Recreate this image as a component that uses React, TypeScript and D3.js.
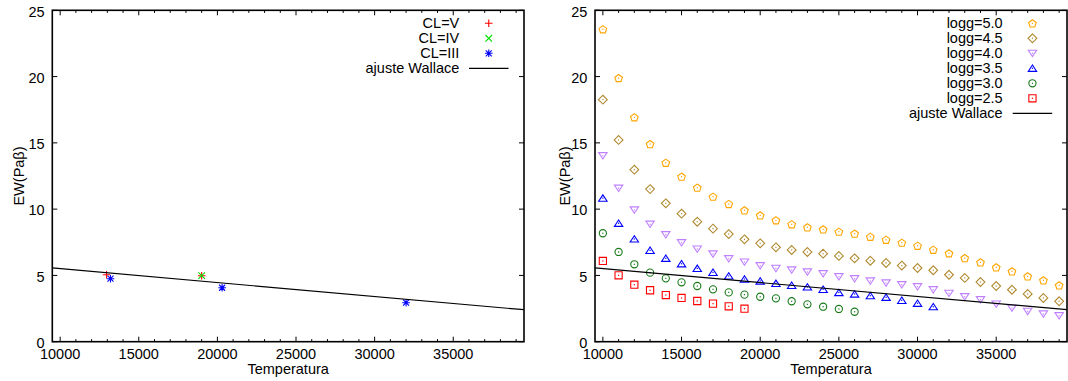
import React from 'react';
import * as d3 from 'd3';

// Temperature grid of the model series (K)
const tempGrid = [
  10000, 11000, 12000, 13000, 14000, 15000, 16000, 17000, 18000, 19000,
  20000, 21000, 22000, 23000, 24000, 25000, 26000, 27000, 28000, 29000,
  30000, 31000, 32000, 33000, 34000, 35000, 36000, 37000, 38000, 39000,
];

// Model EW(Paβ) per surface gravity
const logg50 = [23.57, 19.89, 16.93, 14.91, 13.5, 12.45, 11.62, 10.94, 10.39, 9.91, 9.53, 9.16, 8.86, 8.63, 8.48, 8.3, 8.15, 7.92, 7.69, 7.47, 7.24, 6.94, 6.67, 6.31, 5.99, 5.61, 5.31, 4.93, 4.63, 4.25];
const logg45 = [18.26, 15.22, 12.98, 11.51, 10.44, 9.66, 9.05, 8.53, 8.12, 7.72, 7.42, 7.12, 6.92, 6.77, 6.64, 6.47, 6.29, 6.11, 5.94, 5.74, 5.56, 5.39, 5.05, 4.81, 4.5, 4.2, 3.92, 3.6, 3.3, 3.05];
const logg40 = [14.03, 11.58, 9.94, 8.86, 8.07, 7.47, 6.99, 6.62, 6.26, 6.01, 5.73, 5.53, 5.41, 5.26, 5.13, 4.9, 4.75, 4.58, 4.43, 4.3, 4.15, 3.92, 3.65, 3.39, 3.17, 2.84, 2.54, 2.29, 2.09, 1.96];
const logg35 = [10.83, 8.93, 7.75, 6.89, 6.29, 5.88, 5.53, 5.23, 4.96, 4.73, 4.58, 4.4, 4.25, 4.13, 3.95, 3.71, 3.6, 3.47, 3.35, 3.12, 2.9, 2.64];
const logg30 = [8.18, 6.77, 5.84, 5.21, 4.78, 4.48, 4.2, 3.95, 3.72, 3.55, 3.39, 3.27, 3.05, 2.82, 2.64, 2.47, 2.26];
const logg25 = [6.09, 5.01, 4.3, 3.88, 3.52, 3.3, 3.07, 2.87, 2.67, 2.49];

// Observed stars by luminosity class
const clVTemp = [12950, 19000];
const clVEW = [5.05, 4.98];
const clIVTemp = [19000];
const clIVEW = [4.98];
const clIIITemp = [13200, 20300, 32000];
const clIIIEW = [4.75, 4.07, 2.94];

// Wallace fit: EW = a + b * T
const wallaceA = 6.56;
const wallaceB = -1.05e-4;

const xDomain = [9500, 39500];
const yDomain = [0, 25];
const xTickValues = [10000, 15000, 20000, 25000, 30000, 35000];
const yTickValues = [0, 5, 10, 15, 20, 25];

const FONT = '"Liberation Sans", Arial, Helvetica, sans-serif';
const FS = 14.5;
const TOP = 10.3;
const BOTTOM = 341.7;

type Shape = 'plus' | 'cross' | 'star' | 'pentagon' | 'diamond' | 'tridown' | 'triup' | 'circle' | 'square';

function markerPath(shape: Shape): string {
  const p = d3.path();
  const poly = (pts: [number, number][]) => {
    p.moveTo(pts[0][0], pts[0][1]);
    pts.slice(1).forEach(([a, b]) => p.lineTo(a, b));
    p.closePath();
  };
  switch (shape) {
    case 'plus':
      p.moveTo(-3.8, 0); p.lineTo(3.8, 0); p.moveTo(0, -3.8); p.lineTo(0, 3.8);
      break;
    case 'cross':
      p.moveTo(-3.3, -3.3); p.lineTo(3.3, 3.3); p.moveTo(-3.3, 3.3); p.lineTo(3.3, -3.3);
      break;
    case 'star':
      p.moveTo(-3.8, 0); p.lineTo(3.8, 0); p.moveTo(0, -3.8); p.lineTo(0, 3.8);
      p.moveTo(-3, -3); p.lineTo(3, 3); p.moveTo(-3, 3); p.lineTo(3, -3);
      break;
    case 'pentagon': {
      const r = 4;
      const pts: [number, number][] = d3.range(5).map((k) => {
        const a = (-90 + 72 * k) * Math.PI / 180;
        return [r * Math.cos(a), r * Math.sin(a) + 0.4];
      });
      poly(pts);
      break;
    }
    case 'diamond':
      poly([[0, -4.4], [4.4, 0], [0, 4.4], [-4.4, 0]]);
      break;
    case 'tridown':
      poly([[-4.2, -3.1], [4.2, -3.1], [0, 3.3]]);
      break;
    case 'triup':
      poly([[-4.2, 3.1], [4.2, 3.1], [0, -3.3]]);
      break;
    case 'circle':
      p.moveTo(3.6, 0); p.arc(0, 0, 3.6, 0, Math.PI * 2);
      break;
    case 'square':
      poly([[-3.6, -3.6], [3.6, -3.6], [3.6, 3.6], [-3.6, 3.6]]);
      break;
  }
  return p.toString();
}

const hasDot = (s: Shape) => !['plus', 'cross', 'star'].includes(s);

function Marker({ x, y, shape, color }: { x: number; y: number; shape: Shape; color: string }) {
  return (
    <g transform={`translate(${x},${y})`}>
      <path d={markerPath(shape)} fill="none" stroke={color} strokeWidth={1.1} />
      {hasDot(shape) && <rect x={-0.6} y={-0.6} width={1.2} height={1.2} fill={color} />}
    </g>
  );
}

interface Series {
  label: string;
  temps: number[];
  values: number[];
  shape: Shape;
  color: string;
}

function Panel({
  x0, x1, series, legendTextRight, legendLineStart, yLabelX,
}: {
  x0: number; x1: number; series: Series[]; legendTextRight: number; legendLineStart: number; yLabelX: number;
}) {
  const x = d3.scaleLinear().domain(xDomain).range([x0, x1]);
  const y = d3.scaleLinear().domain(yDomain).range([BOTTOM, TOP]);
  const minor = d3.range(10000, 39001, 1000);
  const fit = d3.line<number>().x((t) => x(t)).y((t) => y(wallaceA + wallaceB * t));
  const legendLineEnd = legendLineStart + 39.5;
  const legendMid = (legendLineStart + legendLineEnd) / 2;
  const rowY = (i: number) => 23.3 + 15 * i;

  return (
    <g>
      <defs>
        <clipPath id={`clip-${x0}`}>
          <rect x={x0} y={TOP} width={x1 - x0} height={BOTTOM - TOP} />
        </clipPath>
      </defs>
      {/* ticks on all four sides, pointing inward */}
      {minor.map((t) => {
        const major = t % 5000 === 0;
        const len = major ? 5 : 2.6;
        return (
          <g key={t} stroke="#000" strokeWidth={1}>
            <line x1={x(t)} x2={x(t)} y1={BOTTOM} y2={BOTTOM - len} />
            <line x1={x(t)} x2={x(t)} y1={TOP} y2={TOP + len} />
          </g>
        );
      })}
      {yTickValues.map((v) => (
        <g key={v} stroke="#000" strokeWidth={1}>
          <line x1={x0} x2={x0 + 5} y1={y(v)} y2={y(v)} />
          <line x1={x1} x2={x1 - 5} y1={y(v)} y2={y(v)} />
        </g>
      ))}
      {xTickValues.map((t) => (
        <text key={t} x={x(t)} y={358.6} textAnchor="middle" fontFamily={FONT} fontSize={FS} fill="#000">
          {t}
        </text>
      ))}
      {yTickValues.map((v) => (
        <text key={v} x={x0 - 7.6} y={y(v) + 6.3} textAnchor="end" fontFamily={FONT} fontSize={FS} fill="#000">
          {v}
        </text>
      ))}
      <text x={(x0 + x1) / 2} y={374} textAnchor="middle" fontFamily={FONT} fontSize={FS} fill="#000">
        Temperatura
      </text>
      <text
        transform={`translate(${yLabelX},${(TOP + BOTTOM) / 2}) rotate(-90)`}
        textAnchor="middle"
        dominantBaseline="central"
        fontFamily={FONT}
        fontSize={FS}
        fill="#000"
      >
        EW(Paβ)
      </text>

      <g clipPath={`url(#clip-${x0})`}>
        {series.map((s) => (
          <g key={s.label}>
            {s.values.map((v, i) => (
              <Marker key={i} x={x(s.temps[i])} y={y(v)} shape={s.shape} color={s.color} />
            ))}
          </g>
        ))}
        <path d={fit(xDomain) ?? ''} fill="none" stroke="#000" strokeWidth={1.2} />
      </g>

      {/* key */}
      {series.map((s, i) => (
        <g key={s.label}>
          <text x={legendTextRight} y={rowY(i) + 5} textAnchor="end" fontFamily={FONT} fontSize={FS} fill="#000">
            {s.label}
          </text>
          <Marker x={legendMid} y={rowY(i)} shape={s.shape} color={s.color} />
        </g>
      ))}
      <text x={legendTextRight} y={rowY(series.length) + 5} textAnchor="end" fontFamily={FONT} fontSize={FS} fill="#000">
        ajuste Wallace
      </text>
      <line x1={legendLineStart} x2={legendLineEnd} y1={rowY(series.length)} y2={rowY(series.length)} stroke="#000" strokeWidth={1.2} />

      <rect x={x0} y={TOP} width={x1 - x0} height={BOTTOM - TOP} fill="none" stroke="#000" strokeWidth={1.6} />
    </g>
  );
}

const starSeries: Series[] = [
  { label: 'CL=V', temps: clVTemp, values: clVEW, shape: 'plus', color: '#ff0000' },
  { label: 'CL=IV', temps: clIVTemp, values: clIVEW, shape: 'cross', color: '#00e000' },
  { label: 'CL=III', temps: clIIITemp, values: clIIIEW, shape: 'star', color: '#0000ff' },
];

const modelSeries: Series[] = [
  { label: 'logg=5.0', temps: tempGrid, values: logg50, shape: 'pentagon', color: '#ffa500' },
  { label: 'logg=4.5', temps: tempGrid, values: logg45, shape: 'diamond', color: '#b08a30' },
  { label: 'logg=4.0', temps: tempGrid, values: logg40, shape: 'tridown', color: '#c080ff' },
  { label: 'logg=3.5', temps: tempGrid, values: logg35, shape: 'triup', color: '#0000ff' },
  { label: 'logg=3.0', temps: tempGrid, values: logg30, shape: 'circle', color: '#1a7a1a' },
  { label: 'logg=2.5', temps: tempGrid, values: logg25, shape: 'square', color: '#ff0000' },
];

export default function App() {
  return (
    <svg
      width={1068}
      height={381}
      style={{ position: 'absolute', left: 0, top: 0, background: '#fff' }}
    >
      <rect width={1068} height={381} fill="#fff" />
      <Panel x0={52.3} x1={524} series={starSeries} legendTextRight={459.3} legendLineStart={469} yLabelX={18.5} />
      <Panel x0={595} x1={1067} series={modelSeries} legendTextRight={1002.7} legendLineStart={1012.7} yLabelX={564.5} />
    </svg>
  );
}
